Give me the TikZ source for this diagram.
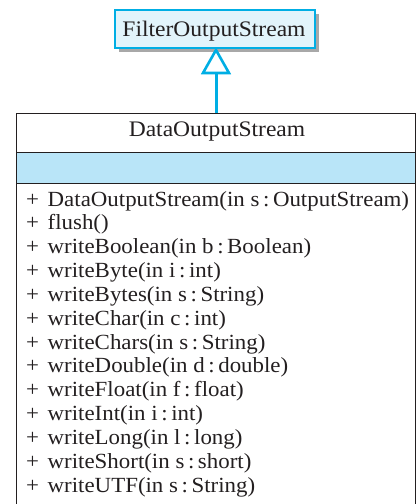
\documentclass[tikz,border=0pt]{standalone}
\usepackage{fontspec}
\setmainfont{Liberation Serif}[FakeStretch=1.06]
\usetikzlibrary{arrows.meta}
\definecolor{arrowc}{HTML}{00AEE4}
\definecolor{lightfill}{HTML}{E2F4FB}
\definecolor{bandfill}{HTML}{B9E5F8}
\definecolor{shadowc}{HTML}{A8A8A8}
\definecolor{inkc}{HTML}{231F20}
\tikzset{
  head/.style={font=\fontsize{22.2}{24}\selectfont, inner sep=0pt, anchor=base, text=inkc},
  meth/.style={font=\fontsize{21.6}{24}\selectfont, inner sep=0pt, anchor=base west, text=inkc},
}
\newcommand{\pl}{\makebox[21.5pt][l]{+}}
\begin{document}
\begin{tikzpicture}[x=1pt,y=-1pt]
\useasboundingbox (0,0) rectangle (418,504);
% super class
\fill[shadowc] (119,14) rectangle (319,52);
\draw[arrowc, line width=1.2pt, fill=lightfill] (115,10) rectangle (315,48);
\node[head] (fos) at (214,36) {FilterOutputStream};
% main class
\coordinate (top) at (216,113);
\fill[bandfill] (16,152) rectangle (415,183);
\draw[inkc, line width=1pt] (16,504) -- (16,113) -- (415,113) -- (415,504);
\draw[inkc, line width=1pt] (16,152) -- (415,152);
\draw[inkc, line width=1pt] (16,183) -- (415,183);
\node[head] (dos) at (217,136.7) {DataOutputStream};
% inheritance
\coordinate (apex) at (216,50);
\draw[arrowc, line width=3pt] (top) -- (216,73);
\draw[arrowc, line width=2.6pt, fill=white, line join=miter] (apex) -- (229,73) -- (203,73) -- cycle;
% methods
\foreach \t [count=\i] in {
  {DataOutputStream(in s\,:\,OutputStream)},
  {flush()},
  {writeBoolean(in b\,:\,Boolean)},
  {writeByte(in i\,:\,int)},
  {writeBytes(in s\,:\,String)},
  {writeChar(in c\,:\,int)},
  {writeChars(in s\,:\,String)},
  {writeDouble(in d\,:\,double)},
  {writeFloat(in f\,:\,float)},
  {writeInt(in i\,:\,int)},
  {writeLong(in l\,:\,long)},
  {writeShort(in s\,:\,short)},
  {writeUTF(in s\,:\,String)}}
  \node[meth] (m\i) at (26,{206+(\i-1)*23.85}) {\pl\t};
\end{tikzpicture}
\end{document}
